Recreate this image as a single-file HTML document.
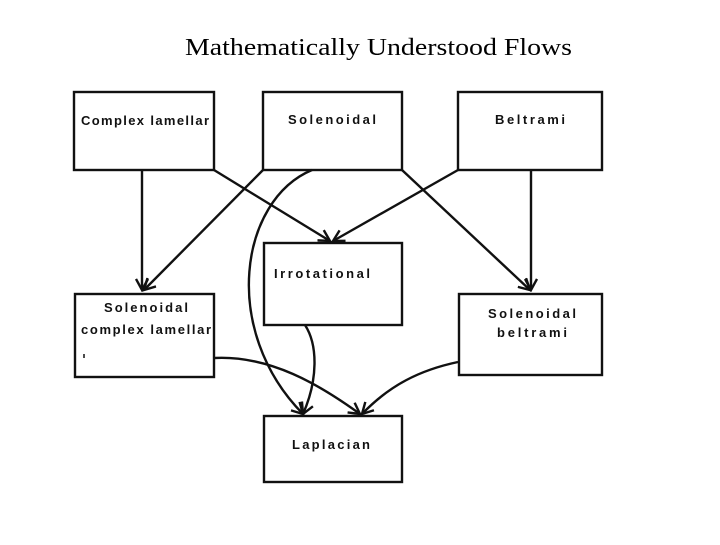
<!DOCTYPE html>
<html><head><style>
body{margin:0;background:#fff;width:720px;height:540px;overflow:hidden}
</style></head><body>
<svg width="720" height="540" xmlns="http://www.w3.org/2000/svg">
<defs><marker id="a" markerWidth="14" markerHeight="14" refX="12" refY="7" orient="auto" markerUnits="userSpaceOnUse"><path d="M1,1 L12,7 L1,13" fill="none" stroke="#111" stroke-width="2.4"/></marker></defs>
<text x="185" y="55" font-family="Liberation Serif, serif" font-size="24" textLength="387" lengthAdjust="spacingAndGlyphs" fill="#000">Mathematically Understood Flows</text>
<g fill="none" stroke="#111" stroke-width="2.4">
<rect x="74" y="92" width="140" height="78"/>
<rect x="263" y="92" width="139" height="78"/>
<rect x="458" y="92" width="144" height="78"/>
<rect x="264" y="243" width="138" height="82"/>
<rect x="75" y="294" width="139" height="83"/>
<rect x="459" y="294" width="143" height="81"/>
<rect x="264" y="416" width="138" height="66"/>
</g>
<g fill="none" stroke="#111" stroke-width="2.4" marker-end="url(#a)">
<path d="M142,170 L142,290"/>
<path d="M263,170 L144,290"/>
<path d="M214,170 L330,241"/>
<path d="M458,170 L333,241"/>
<path d="M402,170 L530,290"/>
<path d="M531,170 L531,290"/>
<path d="M312,170 C240,200 220,330 303,414"/>
<path d="M305,325 C318,345 318,380 303,414"/>
<path d="M214,358 C270,355 320,385 360,414"/>
<path d="M458,362 C420,370 390,385 362,414"/>
</g>
<g font-family="Liberation Sans, sans-serif" font-size="13" font-weight="bold" fill="#111" text-anchor="middle">
<text x="145" y="125" textLength="128" lengthAdjust="spacing">Complex lamellar</text>
<text x="332" y="124" textLength="88" lengthAdjust="spacing">Solenoidal</text>
<text x="530" y="124" textLength="70" lengthAdjust="spacing">Beltrami</text>
<text x="322" y="278" textLength="96" lengthAdjust="spacing">Irrotational</text>
<text x="146" y="312" textLength="84" lengthAdjust="spacing">Solenoidal</text>
<text x="146" y="334" textLength="130" lengthAdjust="spacing">complex lamellar</text>
<text x="532" y="318" textLength="88" lengthAdjust="spacing">Solenoidal</text>
<text x="532" y="337" textLength="70" lengthAdjust="spacing">beltrami</text>
<text x="331" y="449" textLength="78" lengthAdjust="spacing">Laplacian</text>
</g>
<line x1="84" y1="354" x2="84" y2="358" stroke="#111" stroke-width="1.5"/>
</svg>
</body></html>
